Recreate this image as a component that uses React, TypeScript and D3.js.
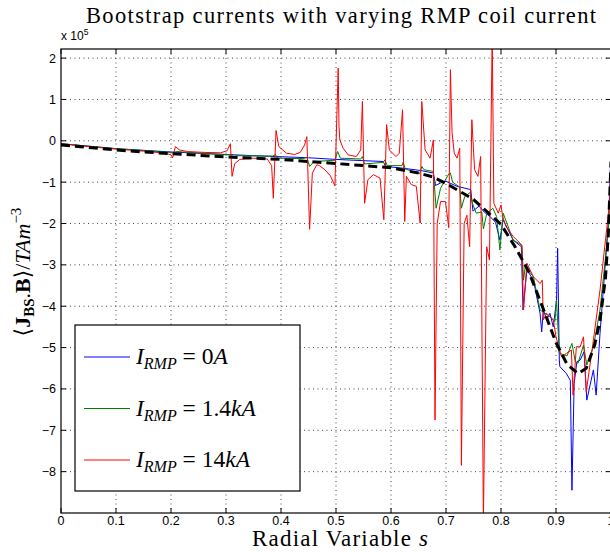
import * as d3 from 'd3'

const xTicks = [0, 0.1, 0.2, 0.3, 0.4, 0.5, 0.6, 0.7, 0.8, 0.9, 1]
const yTicks = [2, 1, 0, -1, -2, -3, -4, -5, -6, -7, -8]

// values in units of 1e5
const fitCurve = [
  [0, -0.1], [0.05, -0.16], [0.1, -0.22], [0.15, -0.27], [0.2, -0.31], [0.25, -0.35], [0.3, -0.39],
  [0.35, -0.42], [0.4, -0.45], [0.45, -0.5], [0.5, -0.55], [0.55, -0.6], [0.6, -0.65], [0.65, -0.78],
  [0.675, -0.87], [0.7, -1.03], [0.725, -1.22], [0.75, -1.42], [0.775, -1.72], [0.8, -2.02],
  [0.825, -2.55], [0.85, -3.15], [0.875, -4.0], [0.9, -4.88], [0.92, -5.4], [0.94, -5.63],
  [0.955, -5.5], [0.97, -4.95], [0.98, -4.35], [0.99, -3.3], [0.995, -2.3], [1.0, -0.5],
]

const rmp0 = [
  [0, -0.07], [0.1, -0.19], [0.2, -0.27], [0.3, -0.33], [0.35, -0.36], [0.39, -0.38], [0.45, -0.41],
  [0.5, -0.45], [0.55, -0.48], [0.586, -0.5], [0.59, -0.62], [0.62, -0.66], [0.655, -0.72],
  [0.677, -0.78], [0.681, -1.08], [0.69, -1.02], [0.7, -0.98], [0.72, -1.1], [0.745, -1.18],
  [0.749, -1.7], [0.76, -1.58], [0.77, -1.73], [0.78, -1.83], [0.79, -1.97], [0.798, -2.4],
  [0.804, -1.91], [0.822, -2.4], [0.837, -2.56], [0.84, -4.09], [0.847, -3.12], [0.859, -3.37],
  [0.871, -4.17], [0.874, -4.62], [0.877, -4.09], [0.883, -4.33], [0.889, -4.17], [0.895, -4.5],
  [0.901, -3.85], [0.903, -2.6], [0.906, -5.3], [0.907, -5.46], [0.919, -5.63], [0.926, -5.79],
  [0.929, -8.45], [0.933, -5.87], [0.938, -5.34], [0.944, -5.3], [0.951, -5.1], [0.956, -6.27],
  [0.968, -5.54], [0.973, -6.15], [0.98, -4.66], [0.99, -2.9], [0.996, -1.8], [1.0, -0.2],
]

const rmp14 = [
  [0, -0.07], [0.1, -0.19], [0.2, -0.28], [0.205, -0.3], [0.21, -0.26], [0.3, -0.34], [0.31, -0.33],
  [0.312, -0.4], [0.32, -0.36], [0.385, -0.37], [0.39, -0.33], [0.393, -0.42], [0.44, -0.43],
  [0.447, -0.4], [0.452, -0.62], [0.46, -0.5], [0.498, -0.47], [0.503, -0.26], [0.508, -0.42],
  [0.545, -0.44], [0.548, -0.38], [0.552, -0.56], [0.586, -0.52], [0.589, -0.46], [0.593, -0.6],
  [0.62, -0.6], [0.622, -0.52], [0.626, -0.68], [0.652, -0.8], [0.656, -0.62], [0.66, -0.7],
  [0.677, -0.74], [0.682, -1.63], [0.69, -1.15], [0.705, -0.8], [0.708, -0.78], [0.712, -1.0],
  [0.725, -1.12], [0.728, -1.63], [0.734, -1.35], [0.744, -1.25], [0.748, -1.51], [0.755, -1.75],
  [0.765, -1.72], [0.768, -2.13], [0.774, -1.77], [0.785, -1.63], [0.792, -1.83], [0.798, -2.64],
  [0.804, -1.75], [0.822, -2.4], [0.838, -2.52], [0.841, -3.37], [0.844, -3.04], [0.859, -3.29],
  [0.871, -4.09], [0.889, -4.25], [0.898, -4.37], [0.901, -3.85], [0.906, -5.14], [0.92, -5.2],
  [0.929, -4.9], [0.935, -5.34], [0.94, -5.38], [0.95, -4.94], [0.956, -5.42], [0.968, -4.98],
  [0.98, -4.09], [0.992, -2.56], [0.998, -1.75], [1.0, -0.2],
]

const rmp140 = [
  [0, -0.07], [0.05, -0.14], [0.1, -0.2], [0.15, -0.25], [0.19, -0.3], [0.2, -0.34], [0.203, -0.41],
  [0.208, -0.14], [0.215, -0.22], [0.23, -0.26], [0.26, -0.28], [0.29, -0.29], [0.302, -0.24],
  [0.308, -0.07], [0.311, -0.86], [0.316, -0.55], [0.325, -0.45], [0.35, -0.42], [0.375, -0.44],
  [0.383, -0.6], [0.386, -1.39], [0.391, 0.25], [0.396, -0.14], [0.41, -0.3], [0.425, -0.33],
  [0.435, -0.28], [0.443, -0.1], [0.447, 0.1], [0.452, -2.14], [0.457, -0.78], [0.465, -0.58],
  [0.47, -0.6], [0.48, -0.7], [0.49, -0.85], [0.498, -1.09], [0.504, 1.76], [0.5055, 0.35],
  [0.507, 0.02], [0.513, -0.18], [0.522, -0.34], [0.537, -0.38], [0.545, -0.22], [0.548, 0.95],
  [0.552, -1.51], [0.558, -0.94], [0.568, -0.82], [0.58, -0.9], [0.587, -1.91], [0.592, 0.39],
  [0.597, -0.22], [0.609, -0.38], [0.615, -0.3], [0.621, 0.75], [0.625, -1.95], [0.628, -0.86],
  [0.637, -1.06], [0.646, -1.1], [0.653, -1.99], [0.656, 0.95], [0.662, -0.22], [0.671, -0.42],
  [0.677, 0.02], [0.68, -6.75], [0.684, -2.0], [0.69, -1.47], [0.699, -1.47], [0.705, -2.1],
  [0.708, 1.72], [0.711, 0.2], [0.715, -0.3], [0.72, -0.42], [0.725, -0.18], [0.728, -7.85],
  [0.733, -2.0], [0.738, -1.8], [0.743, -2.56], [0.747, 0.51], [0.752, -0.7], [0.758, -0.86],
  [0.763, -0.38], [0.768, -9.2], [0.774, -2.56], [0.779, -2.88], [0.784, 2.6], [0.787, -1.51],
  [0.795, -1.75], [0.8, -1.55], [0.803, -1.83], [0.809, -2.07], [0.822, -2.31], [0.835, -2.48],
  [0.838, -2.56], [0.841, -4.09], [0.847, -2.96], [0.859, -3.29], [0.871, -3.45], [0.875, -3.37],
  [0.877, -4.33], [0.883, -4.17], [0.889, -4.25], [0.895, -4.33], [0.9, -4.74], [0.91, -5.22],
  [0.919, -5.14], [0.928, -5.06], [0.931, -6.15], [0.937, -4.98], [0.944, -4.98], [0.95, -4.74],
  [0.955, -6.07], [0.968, -4.82], [0.98, -3.61], [0.992, -2.15], [0.998, -1.43], [1.0, -0.2],
]

const series = [
  { name: '0A', color: '#0000ff', data: rmp0 },
  { name: '1.4kA', color: '#008000', data: rmp14 },
  { name: '14kA', color: '#ff0000', data: rmp140 },
]

const W = 610
const H = 552
const left = 61
const right = 611
const top = 49
const bottom = 513

export default function App() {
  const x = d3.scaleLinear().domain([0, 1]).range([left, right])
  const y = d3.scaleLinear().domain([-9, 2.22]).range([bottom, top])
  const line = d3.line<number[]>().x((d) => x(d[0])).y((d) => y(d[1]))
  const tickFont = '"Liberation Sans", Arial, sans-serif'
  const serif = '"Liberation Serif", "DejaVu Serif", serif'

  return (
    <svg width={W} height={H} style={{ position: 'absolute', left: 0, top: 0, background: '#fff' }}>
      <defs>
        <clipPath id="plot">
          <rect x={left} y={top} width={right - left} height={bottom - top} />
        </clipPath>
      </defs>
      <rect x={0} y={0} width={W} height={H} fill="#fff" />

      {/* grid */}
      <g stroke="#444" strokeWidth={1} strokeDasharray="1,3.5">
        {xTicks.slice(1, -1).map((t) => (
          <line key={'gx' + t} x1={x(t)} x2={x(t)} y1={top} y2={bottom} />
        ))}
        {yTicks.map((t) => (
          <line key={'gy' + t} x1={left} x2={right} y1={y(t)} y2={y(t)} />
        ))}
      </g>

      {/* ticks */}
      <g stroke="#000" strokeWidth={1}>
        {xTicks.map((t) => (
          <g key={'tx' + t}>
            <line x1={x(t)} x2={x(t)} y1={bottom} y2={bottom - 5} />
            <line x1={x(t)} x2={x(t)} y1={top} y2={top + 5} />
          </g>
        ))}
        {yTicks.map((t) => (
          <g key={'ty' + t}>
            <line x1={left} x2={left + 5} y1={y(t)} y2={y(t)} />
            <line x1={right - 5} x2={right} y1={y(t)} y2={y(t)} />
          </g>
        ))}
      </g>

      {/* data */}
      <g clipPath="url(#plot)" fill="none">
        {series.map((s) => (
          <path key={s.name} d={line(s.data) ?? ''} stroke={s.color} strokeWidth={1} strokeLinejoin="round" />
        ))}
        <path d={line(fitCurve) ?? ''} stroke="#000" strokeWidth={3} strokeDasharray="9,5" />
      </g>

      {/* frame */}
      <rect x={left} y={top} width={right - left} height={bottom - top} fill="none" stroke="#000" strokeWidth={1.2} />

      {/* tick labels */}
      <g fontFamily={tickFont} fontSize={12.5} fill="#000">
        {xTicks.map((t) => (
          <text key={'lx' + t} x={x(t)} y={bottom + 11.5} textAnchor="middle">
            {String(t)}
          </text>
        ))}
        {yTicks.map((t) => (
          <text key={'ly' + t} x={left - 5} y={y(t) + 4.5} textAnchor="end">
            {t < 0 ? '\u2212' + Math.abs(t) : String(t)}
          </text>
        ))}
        <text x={left} y={40} fontSize={12}>
          x 10<tspan dy={-5} fontSize={8.5}>5</tspan>
        </text>
      </g>

      {/* title */}
      <text x={341} y={23} textAnchor="middle" fontFamily={serif} fontSize={22.5} textLength={510} lengthAdjust="spacing">
        Bootstrap currents with varying RMP coil current
      </text>

      {/* x label */}
      <text x={340} y={546} textAnchor="middle" fontFamily={serif} fontSize={23} textLength={176} lengthAdjust="spacing">
        Radial Variable <tspan fontStyle="italic">s</tspan>
      </text>

      {/* y label */}
      <text transform="translate(30,272) rotate(-90)" textAnchor="middle" fontFamily={serif} fontSize={22}>
        {'\u27E8'}
        <tspan fontWeight="bold">J</tspan>
        <tspan fontWeight="bold" fontSize={15} dy={4}>BS</tspan>
        <tspan dy={-4}>.</tspan>
        <tspan fontWeight="bold">B</tspan>
        {'\u27E9/'}
        <tspan fontStyle="italic">TAm</tspan>
        <tspan fontSize={15} dy={-9}>{'\u22123'}</tspan>
      </text>

      {/* legend */}
      <g>
        <rect x={75} y={325} width={225} height={166} fill="#fff" stroke="#000" strokeWidth={1.2} />
        {series.map((s, i) => {
          const ly = 357 + i * 51.5
          return (
            <g key={'leg' + s.name}>
              <line x1={84} x2={130} y1={ly} y2={ly} stroke={s.color} strokeWidth={1} />
              <text x={136} y={ly + 7} fontFamily={serif} fontSize={23.5}>
                <tspan fontStyle="italic">I</tspan>
                <tspan fontStyle="italic" fontSize={16} dy={5}>RMP</tspan>
                <tspan dy={-5}>{' = '}</tspan>
                {s.name.replace(/A$/, '').replace(/k$/, '')}
                {s.name.includes('k') ? <tspan fontStyle="italic">k</tspan> : null}
                <tspan fontStyle="italic">A</tspan>
              </text>
            </g>
          )
        })}
      </g>
    </svg>
  )
}
